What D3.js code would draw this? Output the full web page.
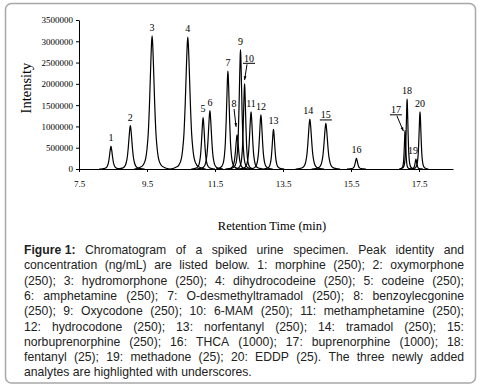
<!DOCTYPE html>
<html>
<head>
<meta charset="utf-8">
<script src="https://d3js.org/d3.v7.min.js"></script>
<style>
  body { margin: 0; background: #fff; }
  svg { display: block; }
</style>
</head>
<body>
<script>
// peak table
const peakIds = [1, 2, 3, 4, 5, 6, 7, 8, 9, 10, 11, 12, 13, 14, 15, 16, 17, 18, 19, 20];
const peakTimes = [8.44, 9.01, 9.65, 10.70, 11.15, 11.35, 11.88, 12.15, 12.25, 12.37, 12.56, 12.85, 13.22, 14.29, 14.76, 15.66, 17.09, 17.15, 17.41, 17.53];
const peakHeights = [530000, 1020000, 3130000, 3100000, 1210000, 1370000, 2300000, 800000, 2800000, 2000000, 1340000, 1270000, 930000, 1170000, 1070000, 250000, 900000, 1640000, 230000, 1340000];
const peakWidths = [0.05, 0.06, 0.075, 0.075, 0.05, 0.055, 0.05, 0.05, 0.045, 0.04, 0.05, 0.05, 0.045, 0.06, 0.06, 0.04, 0.025, 0.03, 0.03, 0.035];
const underlined = [10, 15, 17];

// common peak profile (offset in half-widths, fraction of apex)
const shapeOffsets = [-7, -5, -3.5, -2.5, -2, -1.5, -1, -0.5, -0.2, 0, 0.2, 0.5, 1, 1.5, 2, 2.5, 3.5, 5, 7];
const shapeLevels = [0, 0.01, 0.03, 0.08, 0.15, 0.27, 0.5, 0.8, 0.95, 1, 0.95, 0.8, 0.5, 0.27, 0.15, 0.08, 0.03, 0.01, 0];

const xTicks = [7.5, 9.5, 11.5, 13.5, 15.5, 17.5];
const yTicks = [0, 500000, 1000000, 1500000, 2000000, 2500000, 3000000, 3500000];

// labels that sit away from their peak, with a pointer line
const callouts = [
  {id: 8, t: 12.06, v: 1550000, toT: 12.12, toV: 990000},
  {id: 10, t: 12.50, v: 2600000, toT: 12.37, toV: 2090000},
  {id: 17, t: 16.82, v: 1390000, toT: 17.04, toV: 890000}
];

const captionLines = [
  "Chromatogram of a spiked urine specimen. Peak identity and",
  "concentration (ng/mL) are listed below. 1: morphine (250); 2: oxymorphone",
  "(250); 3: hydromorphone (250); 4: dihydrocodeine (250); 5: codeine (250);",
  "6: amphetamine (250); 7: O-desmethyltramadol (250); 8: benzoylecgonine",
  "(250); 9: Oxycodone (250); 10: 6-MAM (250); 11: methamphetamine (250);",
  "12: hydrocodone (250); 13: norfentanyl (250); 14: tramadol (250); 15:",
  "norbuprenorphine (250); 16: THCA (1000); 17: buprenorphine (1000); 18:",
  "fentanyl (25); 19: methadone (25); 20: EDDP (25). The three newly added",
  "analytes are highlighted with underscores."
];

const W = 485, H = 391;
const svg = d3.select("body").append("svg").attr("width", W).attr("height", H);

svg.append("rect")
  .attr("x", 5.5).attr("y", 3.5).attr("width", 470).attr("height", 379.5)
  .attr("rx", 6).attr("fill", "none").attr("stroke", "#a8a8a8").attr("stroke-width", 1.5);

const x = d3.scaleLinear().domain([7.5, 18.5]).range([79, 453]);
const y = d3.scaleLinear().domain([0, 3500000]).range([169, 20]);

const serif = "'Liberation Serif', 'Times New Roman', serif";

const gx = svg.append("g").attr("transform", `translate(0,${y(0)})`)
  .call(d3.axisBottom(x).tickValues(xTicks).tickFormat(d3.format(".1f")).tickSize(3).tickSizeOuter(0).tickPadding(9));
const gy = svg.append("g").attr("transform", `translate(${x(7.5)},0)`)
  .call(d3.axisLeft(y).tickValues(yTicks).tickFormat(d3.format("d")).tickSize(3).tickSizeOuter(0).tickPadding(3));
[gx, gy].forEach(g => {
  g.selectAll("text").attr("font-family", serif).attr("font-size", 9).attr("fill", "#000");
  g.selectAll("path, line").attr("stroke", "#000");
});

const peaks = peakIds.map((id, i) => ({
  id, t: peakTimes[i], h: peakHeights[i], w: peakWidths[i]
}));

const line = d3.line()
  .x(d => x(d[0])).y(d => y(d[1]))
  .curve(d3.curveMonotoneX);

svg.append("g").selectAll("path").data(peaks).enter().append("path")
  .attr("d", p => line(shapeOffsets.map((o, k) => [p.t + o * p.w, p.h * shapeLevels[k]])))
  .attr("fill", "none").attr("stroke", "#000").attr("stroke-width", 1.2);

// peak labels
const labels = svg.append("g").attr("font-family", serif).attr("font-size", 10).attr("text-anchor", "middle");
peaks.forEach(p => {
  const c = callouts.find(c => c.id === p.id);
  let lx = x(p.t), ly = y(p.h) - 5;
  if (p.id === 19) lx -= 3;
  if (p.id === 14) lx -= 1.5;
  if (c) { lx = x(c.t); ly = y(c.v) + 3.5; }
  const txt = labels.append("text").attr("x", lx).attr("y", ly).text(p.id);
  if (underlined.includes(p.id)) {
    const bw = txt.node().getComputedTextLength();
    labels.append("line")
      .attr("x1", lx - bw / 2 - 1).attr("x2", lx + bw / 2 + 1)
      .attr("y1", ly + 1.5).attr("y2", ly + 1.5)
      .attr("stroke", "#000").attr("stroke-width", 1);
  }
  if (c) {
    const x1 = lx + (p.id === 8 ? 0 : (p.id === 10 ? -2 : 1)), y1 = ly + 2.5;
    const x2 = x(c.toT), y2 = y(c.toV);
    labels.append("line").attr("x1", x1).attr("y1", y1).attr("x2", x2).attr("y2", y2)
      .attr("stroke", "#000").attr("stroke-width", 1);
    const a = Math.atan2(y2 - y1, x2 - x1), s = 4;
    labels.append("path")
      .attr("d", `M${x2},${y2}L${x2 - s * Math.cos(a - 0.35)},${y2 - s * Math.sin(a - 0.35)}L${x2 - s * Math.cos(a + 0.35)},${y2 - s * Math.sin(a + 0.35)}Z`)
      .attr("fill", "#000");
  }
});

// axis titles
svg.append("text")
  .attr("transform", `translate(31,88) rotate(-90)`)
  .attr("text-anchor", "middle").attr("font-family", serif).attr("font-size", 14.5)
  .text("Intensity");
svg.append("text")
  .attr("x", 272).attr("y", 230).attr("text-anchor", "middle")
  .attr("font-family", serif).attr("font-size", 12.5)
  .text("Retention Time (min)");

// caption, justified word by word
const sans = "'Liberation Sans', Arial, sans-serif";
const cap = svg.append("g").attr("font-family", sans).attr("font-size", 12.2).attr("fill", "#222");
const left = 24, right = 464, base = 254, lead = 15.3;
captionLines.forEach((ln, i) => {
  const words = ln.split(" ");
  if (i === 0) words.unshift("Figure 1:");
  const nodes = words.map(wd => {
    const t = cap.append("text").attr("y", base + i * lead).text(wd);
    if (wd === "Figure 1:") t.attr("font-weight", "bold");
    return t;
  });
  const widths = nodes.map(n => n.node().getComputedTextLength());
  const total = d3.sum(widths);
  const last = i === captionLines.length - 1;
  const gap = last ? 3.4 : (right - left - total) / (words.length - 1);
  let cx = left;
  nodes.forEach((n, k) => { n.attr("x", cx); cx += widths[k] + gap; });
});
</script>
</body>
</html>
